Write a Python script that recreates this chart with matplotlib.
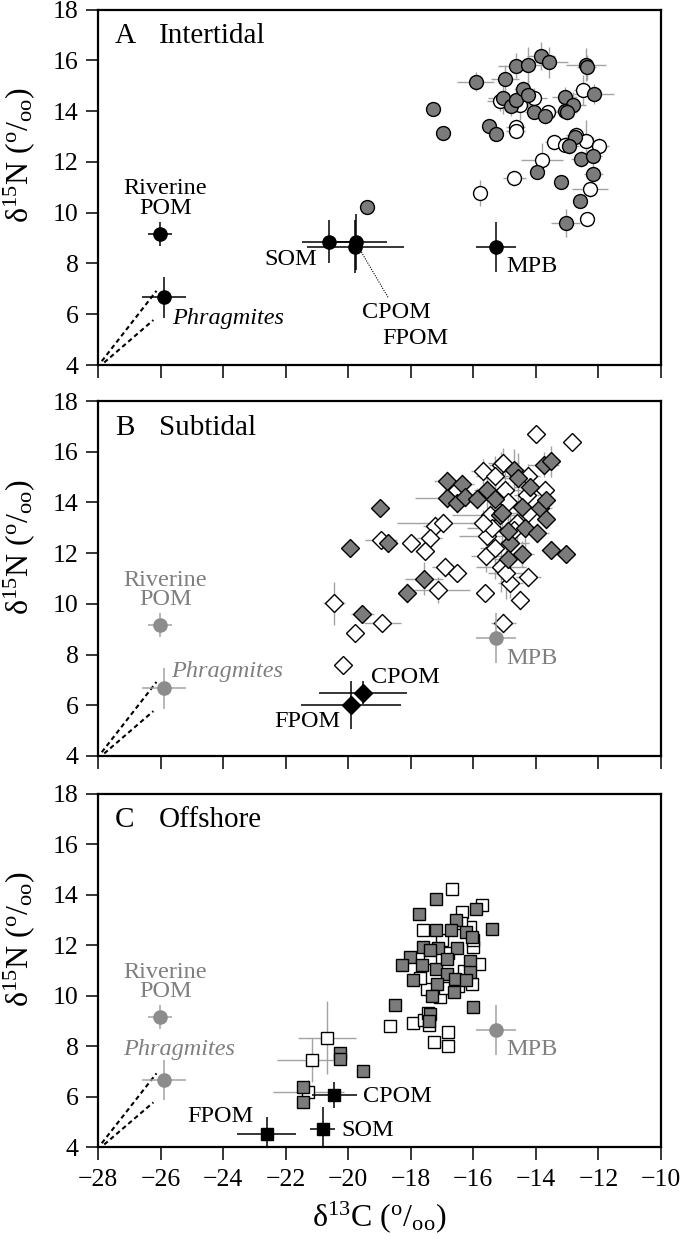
import matplotlib
matplotlib.use("Agg")
import matplotlib.pyplot as plt
import numpy as np

plt.rcParams['font.family'] = ['Liberation Serif', 'DejaVu Serif']
plt.rcParams['mathtext.fontset'] = 'custom'
plt.rcParams['mathtext.rm'] = 'Liberation Serif'
plt.rcParams['mathtext.it'] = 'Liberation Serif:italic'

# ---------------- DATA ----------------
xticks = [-28, -26, -24, -22, -20, -18, -16, -14, -12, -10]
yticks = [4, 6, 8, 10, 12, 14, 16, 18]

# common sources (Riverine POM, Phragmites, MPB): x, y, xerr, yerr
riv_pom = (-26.02, 9.15, 0.38, 0.47)
phrag = (-25.90, 6.67, 0.70, 0.80)
mpb = (-15.27, 8.65, 0.65, 1.00)
# dashed lines from origin to Phragmites
dash_x1 = [-27.88, -26.13]
dash_y1 = [4.15, 6.92]
dash_x2 = [-27.80, -26.23]
dash_y2 = [4.10, 5.77]

# Panel A sources (black circles: SOM, CPOM, FPOM)
A_src_x = [-20.60, -19.75, -19.78]
A_src_y = [8.86, 8.86, 8.66]
A_src_xe = [0.88, 0.98, 1.55]
A_src_ye = [0.85, 1.10, 1.05]

# Panel A consumers
A_gray_x = [-17.28, -16.98, -15.93, -15.00, -14.65, -14.24, -13.84, -13.58, -12.40, -12.38,
            -12.14, -15.04, -14.80, -14.62, -14.40, -14.24, -14.06, -13.71, -13.07, -12.80,
            -13.07, -13.00, -15.49, -15.29, -12.75, -12.93, -12.57, -12.19, -12.17, -13.98,
            -13.20, -12.59, -13.05, -19.41]
A_gray_y = [14.08, 13.14, 15.15, 15.27, 15.79, 15.82, 16.16, 15.92, 15.83, 15.72,
            14.66, 14.50, 14.21, 14.45, 14.87, 14.62, 13.98, 13.80, 14.54, 14.25,
            14.00, 13.96, 13.42, 13.08, 12.96, 12.61, 12.11, 12.22, 11.52, 11.62,
            11.19, 10.44, 9.59, 10.22]
A_gray_xe = [0, 0, 0.60, 0.45, 0.55, 0.50, 0.45, 0.60, 0.65, 0.30,
             0.65, 0.50, 0.40, 0.50, 0.30, 0.40, 0.30, 0.30, 0.40, 0.40,
             0.30, 0.30, 0, 0, 0.30, 0.30, 0.30, 0.30, 0.30, 0,
             0, 0, 0.47, 0]
A_gray_ye = [0, 0, 0.37, 0.55, 0.50, 0.70, 0.55, 0.60, 0.65, 0.50,
             0.40, 0.60, 0.40, 0.50, 0.30, 0.60, 0.30, 0.30, 0.40, 0.50,
             0.30, 0.30, 0, 0, 0.30, 0.30, 0.30, 0.75, 0.30, 0,
             0, 0, 0.56, 0]
A_white_x = [-12.49, -14.06, -14.50, -15.15, -13.60, -14.65, -14.65, -13.42, -12.73, -12.40,
             -11.97, -13.07, -13.80, -14.69, -15.79, -12.27, -12.35]
A_white_y = [14.84, 14.51, 14.25, 14.40, 13.95, 13.37, 13.23, 12.78, 13.07, 12.83,
             12.64, 12.67, 12.08, 11.36, 10.77, 10.93, 9.74]
A_white_xe = [0.30, 0.40, 0.40, 0.40, 0.30, 0.30, 0.30, 0.30, 0.30, 0.30,
              0.30, 0.30, 0.67, 0.37, 0.10, 0.58, 0]
A_white_ye = [0.60, 0.40, 0.60, 0.40, 0.30, 0.30, 0.30, 0.30, 0.30, 0.80,
              0.30, 0.30, 0.66, 0.30, 0.50, 0.30, 0]

# Panel B sources (black diamonds: CPOM, FPOM)
B_src_x = [-19.52, -19.92]
B_src_y = [6.50, 6.01]
B_src_xe = [1.40, 1.60]
B_src_ye = [0.46, 0.94]

# Panel B consumers
B_gray_x = [-18.98, -19.94, -18.72, -17.57, -18.11, -19.55, -16.85, -16.37, -16.85, -16.51,
            -16.26, -15.89, -15.57, -15.30, -15.15, -14.69, -14.56, -14.19, -13.75, -13.52,
            -14.46, -13.87, -13.68, -13.68, -14.35, -13.98, -14.83, -14.45, -14.88, -13.53,
            -13.05, -15.09, -14.88]
B_gray_y = [13.80, 12.20, 12.40, 10.99, 10.42, 9.59, 14.83, 14.72, 14.17, 13.98,
            14.22, 14.15, 14.48, 14.15, 13.52, 15.29, 14.95, 14.59, 15.49, 15.62,
            13.83, 13.80, 14.11, 13.36, 13.00, 12.79, 12.40, 11.97, 11.78, 12.14,
            11.95, 13.58, 12.86]
B_gray_xe = [0, 0, 0.32, 0.60, 0, 0.37, 0.40, 0.40, 1.00, 0.30,
             0.30, 0.30, 0.40, 0.50, 0.40, 0.40, 0.50, 0.50, 0.50, 0.30,
             0.50, 0.40, 0.30, 0.30, 0.40, 0.40, 0.60, 0.40, 0.50, 0.30,
             0, 0.50, 0.60]
B_gray_ye = [0, 0, 0, 0.66, 0.40, 0, 0.40, 0.40, 0.40, 0.40,
             0.40, 0.40, 0.80, 1.20, 0.60, 0.80, 1.00, 0.50, 0.50, 0.60,
             0.60, 0.40, 0.40, 0.40, 0.80, 0.40, 1.20, 0.50, 1.00, 0.30,
             0, 1.20, 0.80]
B_white_x = [-14.01, -12.83, -15.68, -15.10, -15.30, -15.04, -14.26, -13.71, -14.99, -16.53,
             -14.24, -15.47, -17.22, -16.98, -17.39, -18.95, -17.99, -17.55, -15.55, -15.58,
             -16.91, -16.51, -17.12, -15.63, -15.12, -14.82, -14.25, -14.52, -15.04, -18.91,
             -19.78, -20.16, -20.45, -14.94, -15.30, -14.60, -15.40, -14.90, -14.30, -15.70,
             -14.70]
B_white_y = [16.70, 16.39, 15.23, 15.49, 15.04, 15.55, 15.03, 14.50, 14.50, 14.50,
             13.58, 13.52, 13.08, 13.18, 12.59, 12.53, 12.41, 12.09, 12.66, 11.87,
             11.44, 11.22, 10.55, 10.42, 11.47, 10.82, 11.05, 10.16, 9.25, 9.26,
             8.84, 7.57, 10.03, 11.21, 12.20, 13.20, 13.00, 14.00, 14.30, 13.20,
             12.90]
B_white_xe = [0, 0, 0.40, 0.40, 0.60, 0.50, 0.40, 0.30, 0.50, 0.40,
              0.40, 1.20, 0.40, 1.45, 0.40, 0.50, 0.30, 0.30, 0.90, 0.50,
              0.40, 0.30, 1.00, 0.30, 0.80, 0.40, 0.40, 0.30, 0.40, 0.60,
              0, 0, 0.35, 0.60, 0.50, 0.40, 0.80, 0.50, 0.40, 0.40,
              0.40]
B_white_ye = [0, 0, 0.50, 0.50, 0.80, 0.60, 0.50, 0.40, 0.80, 0.40,
              0.50, 0.60, 0.40, 0.40, 0.40, 0.30, 0.30, 0.30, 0.60, 0.60,
              0.40, 0.30, 0.50, 0.30, 1.00, 0.60, 0.40, 0.40, 0.40, 0.30,
              0, 0, 0.85, 1.00, 1.20, 0.80, 1.00, 0.80, 0.60, 0.50,
              0.60]

# Panel C sources (black squares: FPOM, SOM, CPOM)
C_src_x = [-22.61, -20.82, -20.44]
C_src_y = [4.50, 4.70, 6.06]
C_src_xe = [0.94, 0.40, 0.72]
C_src_ye = [0.70, 0.90, 0.53]

# Panel C consumers
C_gray_x = [-17.20, -17.74, -15.93, -16.57, -17.20, -16.71, -16.25, -15.41, -16.05, -17.60,
            -17.12, -16.53, -17.39, -18.03, -18.29, -17.65, -17.20, -16.85, -16.11, -16.11,
            -17.92, -16.85, -16.59, -16.24, -17.17, -16.62, -17.33, -18.50, -16.00, -17.39,
            -17.41, -19.52, -20.26, -20.26, -21.44, -21.44]
C_gray_y = [13.85, 13.25, 13.45, 12.99, 12.59, 12.62, 12.53, 12.66, 12.33, 11.93,
            11.91, 11.89, 11.80, 11.54, 11.23, 11.21, 11.04, 11.47, 11.37, 10.95,
            10.64, 10.85, 10.68, 10.64, 10.46, 10.13, 9.98, 9.62, 9.56, 9.27,
            9.00, 7.01, 7.74, 7.49, 6.36, 5.77]
C_white_x = [-16.67, -15.71, -16.37, -17.62, -16.11, -16.00, -15.81, -16.05, -17.49, -17.07,
             -18.66, -17.92, -17.58, -17.41, -16.80, -17.25, -16.80, -16.40, -16.00, -17.40,
             -16.80, -16.30, -16.90, -17.70, -16.50, -17.00, -17.45, -20.67, -21.17, -21.28]
C_white_y = [14.22, 13.58, 13.32, 12.62, 12.73, 11.93, 11.27, 10.48, 10.28, 9.95,
             8.80, 8.90, 9.03, 8.83, 8.57, 8.15, 8.01, 12.90, 12.20, 11.50,
             11.70, 11.00, 10.30, 10.70, 10.40, 12.20, 9.30, 8.34, 7.45, 6.19]
C_white_xe = [0] * 27 + [0.93, 1.10, 1.13]
C_white_ye = [0] * 27 + [1.45, 0.87, 0.45]

# ---------------- STYLE ----------------
GRAY = '#7b7b7b'
SRC_GRAY = '#8c8c8c'
EB_GRAY = '#a3a3a3'
TXT_GRAY = '#7f7f7f'
FS_TICK = 18.5
FS_LAB = 17.5
FS_TITLE = 21
FS_AX = 23

fig = plt.figure(figsize=(6.81, 12.41), dpi=100)
lefts = 98 / 681
width = (661 - 98) / 681
rows = [(9.5, 365), (401, 756), (794, 1147)]
axes = []
for top, bot in rows:
    ax = fig.add_axes([lefts, 1 - bot / 1241, width, (bot - top) / 1241])
    axes.append(ax)

YLAB = 'δ$^{15}$N ($^{\\mathrm{o}}$/$_{\\mathrm{oo}}$)'
XLAB = 'δ$^{13}$C ($^{\\mathrm{o}}$/$_{\\mathrm{oo}}$)'


def style(ax, show_x):
    ax.set_xlim(-28, -10)
    ax.set_ylim(4, 18)
    ax.set_xticks(xticks)
    ax.set_yticks(yticks)
    ax.tick_params(direction='out', length=9, width=1.1, labelsize=FS_TICK)
    ax.tick_params(axis='y', pad=5)
    ax.tick_params(axis='x', pad=7)
    if show_x:
        ax.set_xticklabels([str(t).replace('-', '\u2212') for t in xticks])
    else:
        ax.set_xticklabels([])
    for s in ax.spines.values():
        s.set_linewidth(1.6)
    ax.set_ylabel(YLAB, fontsize=FS_AX)
    ax.yaxis.set_label_coords(-0.108, 0.59)


def consumers(ax, x, y, xe, ye, marker, face, ms):
    ax.errorbar(x, y, xerr=xe, yerr=ye, fmt='none', ecolor=EB_GRAY, elinewidth=1.0,
                capsize=0, zorder=2)
    ax.plot(x, y, linestyle='none', marker=marker, markersize=ms, markerfacecolor=face,
            markeredgecolor='black', markeredgewidth=1.0, zorder=3)


def sources(ax, x, y, xe, ye, marker, ms):
    ax.errorbar(x, y, xerr=xe, yerr=ye, fmt='none', ecolor='black', elinewidth=1.1,
                capsize=0, zorder=4)
    ax.plot(x, y, linestyle='none', marker=marker, markersize=ms, markerfacecolor='black',
            markeredgecolor='black', zorder=5)


def common_sources(ax, color, ecolor, txtcolor, phrag_xy):
    for (x, y, xe, ye) in (riv_pom, phrag, mpb):
        ax.errorbar([x], [y], xerr=[xe], yerr=[ye], fmt='none', ecolor=ecolor,
                    elinewidth=1.1, capsize=0, zorder=4)
        ax.plot([x], [y], 'o', markersize=9.5, color=color, zorder=5)
    ax.plot(dash_x1, dash_y1, color='black', lw=1.5, ls=(0, (2.2, 1.6)), zorder=3)
    ax.plot(dash_x2, dash_y2, color='black', lw=1.5, ls=(0, (2.2, 1.6)), zorder=3)
    ax.text(-25.85, 10.55, 'Riverine\nPOM', ha='center', va='center', fontsize=FS_LAB,
            color=txtcolor, linespacing=0.9)
    ax.text(phrag_xy[0], phrag_xy[1], 'Phragmites', ha=phrag_xy[2], va='center',
            fontsize=FS_LAB, color=txtcolor, style='italic')
    ax.text(-14.95, 7.86, 'MPB', ha='left', va='center', fontsize=FS_LAB, color=txtcolor)


def panel_title(ax, letter, name):
    ax.text(0.03, 0.925, letter, transform=ax.transAxes, fontsize=FS_TITLE, va='center')
    ax.text(0.108, 0.925, name, transform=ax.transAxes, fontsize=FS_TITLE, va='center')


# Panel A
ax = axes[0]
style(ax, False)
consumers(ax, A_white_x, A_white_y, A_white_xe, A_white_ye, 'o', 'white', 10)
consumers(ax, A_gray_x, A_gray_y, A_gray_xe, A_gray_ye, 'o', GRAY, 10)
common_sources(ax, 'black', 'black', 'black', (-25.63, 5.85, 'left'))
sources(ax, A_src_x, A_src_y, A_src_xe, A_src_ye, 'o', 9.5)
ax.plot([-19.62, -18.72], [8.53, 6.65], color='black', lw=0.8, ls=(0, (1, 1.2)), zorder=3)
ax.text(-21.0, 8.14, 'SOM', ha='right', va='center', fontsize=FS_LAB)
ax.text(-18.47, 6.05, 'CPOM', ha='center', va='center', fontsize=FS_LAB)
ax.text(-17.87, 5.06, 'FPOM', ha='center', va='center', fontsize=FS_LAB)
panel_title(ax, 'A', 'Intertidal')

# Panel B
ax = axes[1]
style(ax, False)
consumers(ax, B_white_x, B_white_y, B_white_xe, B_white_ye, 'D', 'white', 9.4)
consumers(ax, B_gray_x, B_gray_y, B_gray_xe, B_gray_ye, 'D', GRAY, 9.4)
common_sources(ax, SRC_GRAY, EB_GRAY, TXT_GRAY, (-25.67, 7.33, 'left'))
sources(ax, B_src_x, B_src_y, B_src_xe, B_src_ye, 'D', 9.4)
ax.text(-19.28, 7.08, 'CPOM', ha='left', va='center', fontsize=FS_LAB)
ax.text(-21.3, 5.35, 'FPOM', ha='center', va='center', fontsize=FS_LAB)
panel_title(ax, 'B', 'Subtidal')

# Panel C
ax = axes[2]
style(ax, True)
ax.errorbar(C_white_x, C_white_y, xerr=C_white_xe, yerr=C_white_ye, fmt='none',
            ecolor=EB_GRAY, elinewidth=1.0, capsize=0, zorder=2)
ax.plot(C_white_x, C_white_y, linestyle='none', marker='s', markersize=9.2,
        markerfacecolor='white', markeredgecolor='black', markeredgewidth=1.0, zorder=3)
ax.plot(C_gray_x, C_gray_y, linestyle='none', marker='s', markersize=9.2,
        markerfacecolor=GRAY, markeredgecolor='black', markeredgewidth=1.0, zorder=3)
common_sources(ax, SRC_GRAY, EB_GRAY, TXT_GRAY, (-25.4, 7.88, 'center'))
sources(ax, C_src_x, C_src_y, C_src_xe, C_src_ye, 's', 9.0)
ax.text(-24.1, 5.19, 'FPOM', ha='center', va='center', fontsize=FS_LAB)
ax.text(-19.53, 6.02, 'CPOM', ha='left', va='center', fontsize=FS_LAB)
ax.text(-20.21, 4.65, 'SOM', ha='left', va='center', fontsize=FS_LAB)
panel_title(ax, 'C', 'Offshore')
ax.set_xlabel(XLAB, fontsize=FS_AX, labelpad=6)

fig.savefig('out.png', dpi=100)
